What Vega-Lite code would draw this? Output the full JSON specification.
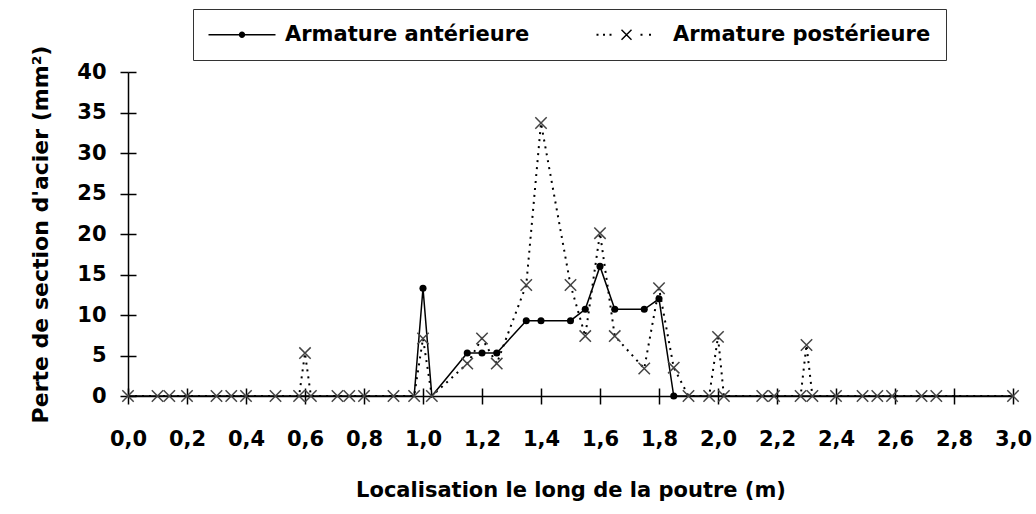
{
  "$schema": "https://vega.github.io/schema/vega-lite/v6.json",
  "autosize": {"type": "none"},
  "width": 885,
  "height": 324,
  "padding": {"left": 128, "top": 72, "right": 23, "bottom": 118},
  "background": "white",
  "config": {
    "view": {"stroke": null},
    "font": "DejaVu Sans",
    "axis": {
      "labelFont": "DejaVu Sans", "labelFontWeight": "bold", "labelFontSize": 21, "labelColor": "black",
      "titleFont": "DejaVu Sans", "titleFontWeight": "bold", "titleFontSize": 21, "titleColor": "black",
      "grid": false, "domainColor": "black", "domainWidth": 1.5, "tickColor": "black", "tickWidth": 1.5
    }
  },
  "data": {"values": [
    {"s": "Armature antérieure", "x": 0, "y": 0},
    {"s": "Armature antérieure", "x": 0.97, "y": 0},
    {"s": "Armature antérieure", "x": 1.0, "y": 13.3},
    {"s": "Armature antérieure", "x": 1.03, "y": 0},
    {"s": "Armature antérieure", "x": 1.15, "y": 5.3},
    {"s": "Armature antérieure", "x": 1.2, "y": 5.3},
    {"s": "Armature antérieure", "x": 1.25, "y": 5.3},
    {"s": "Armature antérieure", "x": 1.35, "y": 9.3},
    {"s": "Armature antérieure", "x": 1.4, "y": 9.3},
    {"s": "Armature antérieure", "x": 1.5, "y": 9.3},
    {"s": "Armature antérieure", "x": 1.55, "y": 10.7},
    {"s": "Armature antérieure", "x": 1.6, "y": 16},
    {"s": "Armature antérieure", "x": 1.65, "y": 10.7},
    {"s": "Armature antérieure", "x": 1.75, "y": 10.7},
    {"s": "Armature antérieure", "x": 1.8, "y": 12},
    {"s": "Armature antérieure", "x": 1.85, "y": 0},
    {"s": "Armature antérieure", "x": 3.0, "y": 0},
    {"s": "Armature postérieure", "x": 0, "y": 0},
    {"s": "Armature postérieure", "x": 0.1, "y": 0},
    {"s": "Armature postérieure", "x": 0.14, "y": 0},
    {"s": "Armature postérieure", "x": 0.2, "y": 0},
    {"s": "Armature postérieure", "x": 0.3, "y": 0},
    {"s": "Armature postérieure", "x": 0.35, "y": 0},
    {"s": "Armature postérieure", "x": 0.4, "y": 0},
    {"s": "Armature postérieure", "x": 0.5, "y": 0},
    {"s": "Armature postérieure", "x": 0.58, "y": 0},
    {"s": "Armature postérieure", "x": 0.6, "y": 5.3},
    {"s": "Armature postérieure", "x": 0.62, "y": 0},
    {"s": "Armature postérieure", "x": 0.71, "y": 0},
    {"s": "Armature postérieure", "x": 0.75, "y": 0},
    {"s": "Armature postérieure", "x": 0.8, "y": 0},
    {"s": "Armature postérieure", "x": 0.9, "y": 0},
    {"s": "Armature postérieure", "x": 0.97, "y": 0},
    {"s": "Armature postérieure", "x": 1.0, "y": 7.1},
    {"s": "Armature postérieure", "x": 1.03, "y": 0},
    {"s": "Armature postérieure", "x": 1.15, "y": 4.0},
    {"s": "Armature postérieure", "x": 1.2, "y": 7.1},
    {"s": "Armature postérieure", "x": 1.25, "y": 4.0},
    {"s": "Armature postérieure", "x": 1.35, "y": 13.7},
    {"s": "Armature postérieure", "x": 1.4, "y": 33.7},
    {"s": "Armature postérieure", "x": 1.5, "y": 13.7},
    {"s": "Armature postérieure", "x": 1.55, "y": 7.4},
    {"s": "Armature postérieure", "x": 1.6, "y": 20.1},
    {"s": "Armature postérieure", "x": 1.65, "y": 7.4},
    {"s": "Armature postérieure", "x": 1.75, "y": 3.4},
    {"s": "Armature postérieure", "x": 1.8, "y": 13.3},
    {"s": "Armature postérieure", "x": 1.85, "y": 3.5},
    {"s": "Armature postérieure", "x": 1.9, "y": 0},
    {"s": "Armature postérieure", "x": 1.97, "y": 0},
    {"s": "Armature postérieure", "x": 2.0, "y": 7.3},
    {"s": "Armature postérieure", "x": 2.02, "y": 0},
    {"s": "Armature postérieure", "x": 2.15, "y": 0},
    {"s": "Armature postérieure", "x": 2.19, "y": 0},
    {"s": "Armature postérieure", "x": 2.28, "y": 0},
    {"s": "Armature postérieure", "x": 2.3, "y": 6.3},
    {"s": "Armature postérieure", "x": 2.32, "y": 0},
    {"s": "Armature postérieure", "x": 2.4, "y": 0},
    {"s": "Armature postérieure", "x": 2.49, "y": 0},
    {"s": "Armature postérieure", "x": 2.54, "y": 0},
    {"s": "Armature postérieure", "x": 2.59, "y": 0},
    {"s": "Armature postérieure", "x": 2.69, "y": 0},
    {"s": "Armature postérieure", "x": 2.74, "y": 0},
    {"s": "Armature postérieure", "x": 3.0, "y": 0}
  ]},
  "layer": [
    {
      "transform": [{"filter": "datum.s == 'Armature postérieure'"}],
      "mark": {"type": "line", "color": "black", "strokeWidth": 2, "strokeDash": [2, 5]},
      "encoding": {
        "x": {"field": "x", "type": "quantitative", "scale": {"domain": [0, 3], "nice": false, "zero": false},
          "axis": {"values": [0, 0.2, 0.4, 0.6, 0.8, 1.0, 1.2, 1.4, 1.6, 1.8, 2.0, 2.2, 2.4, 2.6, 2.8, 3.0],
            "labelExpr": "replace(format(datum.value, '.1f'), '.', ',')",
            "title": "Localisation le long de la poutre (m)", "tickSize": 8, "labelPadding": 24, "titlePadding": 30,
            "labelFlush": false, "labelOverlap": false}},
        "y": {"field": "y", "type": "quantitative", "scale": {"domain": [0, 40], "nice": false},
          "axis": {"values": [0, 5, 10, 15, 20, 25, 30, 35, 40], "title": "Perte de section d'acier (mm²)",
            "tickSize": 8, "labelPadding": 14, "titlePadding": 24, "titleFontSize": 22}}
      }
    },
    {
      "transform": [{"filter": "datum.s == 'Armature antérieure'"}],
      "mark": {"type": "line", "color": "black", "strokeWidth": 1.5},
      "encoding": {
        "x": {"field": "x", "type": "quantitative", "axis": null},
        "y": {"field": "y", "type": "quantitative", "axis": null}
      }
    },
    {
      "transform": [{"filter": "datum.s == 'Armature postérieure'"}],
      "mark": {"type": "point", "shape": "M-1,-1L1,1M-1,1L1,-1", "filled": false, "stroke": "#444", "strokeWidth": 1.5, "size": 130, "opacity": 1},
      "encoding": {
        "x": {"field": "x", "type": "quantitative",
          "axis": {"orient": "bottom", "values": [0, 0.2, 0.4, 0.6, 0.8, 1.0, 1.2, 1.4, 1.6, 1.8, 2.0, 2.2, 2.4, 2.6, 2.8, 3.0],
            "labels": false, "domain": false, "title": null, "tickSize": -8}},
        "y": {"field": "y", "type": "quantitative",
          "axis": {"orient": "left", "values": [0, 5, 10, 15, 20, 25, 30, 35, 40], "labels": false, "domain": false, "title": null, "tickSize": -8}}
      }
    },
    {
      "transform": [{"filter": "datum.s == 'Armature antérieure' && (datum.y > 0 || datum.x == 1.85)"}],
      "mark": {"type": "point", "shape": "circle", "filled": true, "color": "black", "size": 50, "opacity": 1},
      "encoding": {
        "x": {"field": "x", "type": "quantitative", "axis": null},
        "y": {"field": "y", "type": "quantitative", "axis": null}
      }
    },
    {
      "transform": [{"filter": "datum.x < 0"}],
      "mark": {"type": "point", "filled": true, "fill": "black"},
      "encoding": {
        "x": {"field": "x", "type": "quantitative", "axis": null},
        "y": {"field": "y", "type": "quantitative", "axis": null},
        "shape": {"field": "s", "type": "nominal",
          "scale": {"domain": ["Armature antérieure", "Armature postérieure"],
            "range": ["M-1,-0.08H5.7V0.08H-1ZM2.03,0A0.32,0.32 0 1,1 2.67,0A0.32,0.32 0 1,1 2.03,0Z",
                      "M-1,-0.09H-0.8V0.09H-1ZM-0.35,-0.09H-0.15V0.09H-0.35ZM0.3,-0.09H0.5V0.09H0.3ZM1.45,-0.45L1.55,-0.55L2.55,0.45L2.45,0.55ZM1.45,0.45L2.45,-0.55L2.55,-0.45L1.55,0.55ZM3.4,-0.09H3.6V0.09H3.4ZM4.25,-0.09H4.45V0.09H4.25Z"]},
          "legend": {"orient": "none", "legendX": 65, "legendY": -63, "direction": "horizontal", "title": null,
            "labelFont": "DejaVu Sans", "labelFontWeight": "bold", "labelFontSize": 21, "labelColor": "black", "labelLimit": 500,
            "symbolSize": 400, "symbolStrokeWidth": 0, "symbolFillColor": "black", "symbolOpacity": 1,
            "labelOffset": 56, "columnPadding": 66, "padding": 15, "strokeColor": "#333"}}
      }
    }
  ],
  "resolve": {"axis": {"x": "independent", "y": "independent"}}
}
